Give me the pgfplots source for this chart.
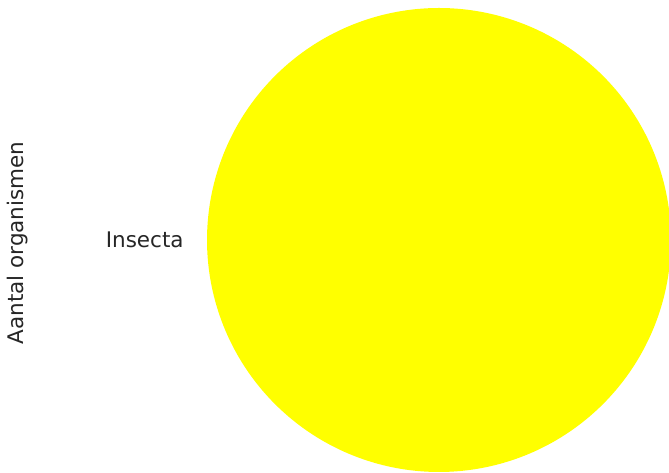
\documentclass[border=0pt]{standalone}
\usepackage{fontspec}
\setmainfont{DejaVu Sans}
\usepackage{pgfplots}
\pgfplotsset{compat=1.18}
\definecolor{pieyellow}{RGB}{255,255,0}
\definecolor{txt}{RGB}{38,38,38}
\begin{document}
\begin{tikzpicture}
\useasboundingbox (0pt,0pt) rectangle (669pt,473pt);
\begin{axis}[
  at={(439pt,233pt)}, anchor=center,
  scale only axis, width=464pt, height=464pt,
  xmin=-1, xmax=1, ymin=-1, ymax=1,
  hide axis, clip=false,
]
% single slice: Insecta = 100% of total (fraction 1.0 -> 360 degrees)
\addplot[fill=pieyellow, draw=none, domain=0:360, samples=361, variable=\t]
  ({cos(\t)}, {sin(\t)}) -- cycle;
\node[anchor=east, font=\fontsize{21.5}{25}\selectfont, text=txt, inner sep=0pt] at (axis cs:-1.1,0) {Insecta};
\end{axis}
\node[rotate=90, font=\fontsize{21.5}{25}\selectfont, text=txt, inner sep=0pt] at (18pt,230pt) {Aantal organismen};
\end{tikzpicture}
\end{document}
